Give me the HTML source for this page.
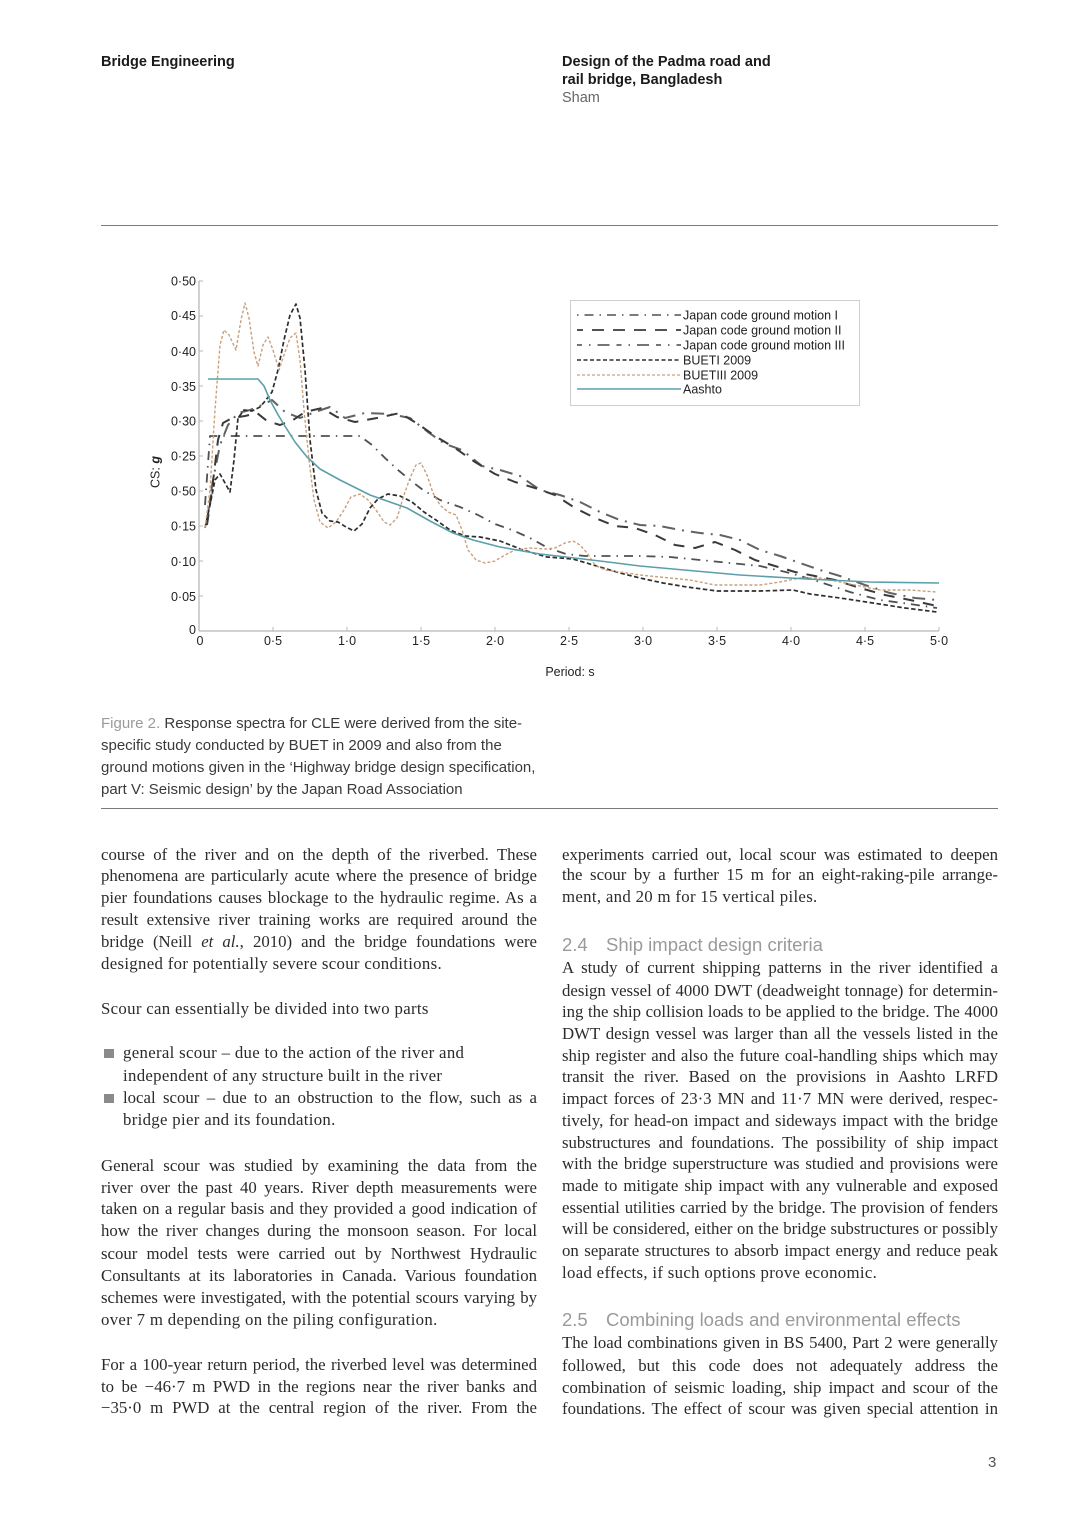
<!DOCTYPE html>
<html>
<head>
<meta charset="utf-8">
<style>
  html,body{margin:0;padding:0;background:#fff;}
  body{width:1080px;height:1528px;position:relative;overflow:hidden;}
  .s{font-family:"Liberation Sans",Arial,sans-serif;}
  .hd{position:absolute;font-family:"Liberation Sans",Arial,sans-serif;font-size:14.5px;line-height:18px;color:#1a1a1a;white-space:nowrap;}
  .rule{position:absolute;left:101px;width:897px;height:1px;background:#7a7a7a;}
  .cap{position:absolute;left:101px;font-family:"Liberation Sans",Arial,sans-serif;font-size:15px;line-height:22px;color:#3a3a3a;white-space:nowrap;}
  .l{position:absolute;height:22px;line-height:22px;font-family:"Liberation Serif","Times New Roman",serif;font-size:16.8px;color:#2b2b2b;white-space:nowrap;text-align:justify;text-align-last:justify;}
  .L{left:101px;width:436px;}
  .R{left:562px;width:436px;}
  .B{left:123px;width:414px;}
  .e{text-align-last:left;letter-spacing:0.32px;}
  .h{position:absolute;left:562px;height:24px;line-height:24px;font-family:"Liberation Sans",Arial,sans-serif;font-size:18.5px;color:#9a9a9a;white-space:nowrap;}
  .h span{display:inline-block;width:44px;}
  .bul{position:absolute;left:104px;width:10px;height:9px;background:#8a8a8a;}
</style>
</head>
<body>

<!-- Header -->
<div class="hd" style="left:101px;top:53px;font-weight:bold;">Bridge Engineering</div>
<div class="hd" style="left:562px;top:53px;font-weight:bold;">Design of the Padma road and</div>
<div class="hd" style="left:562px;top:71px;font-weight:bold;">rail bridge, Bangladesh</div>
<div class="hd" style="left:562px;top:89px;color:#666;">Sham</div>

<div class="rule" style="top:225px;"></div>

<!-- Chart -->
<svg style="position:absolute;left:0;top:0;" width="1080" height="700" viewBox="0 0 1080 700" xmlns="http://www.w3.org/2000/svg">
  <g font-family="Liberation Sans, Arial, sans-serif" font-size="12.5" fill="#222">
    <!-- axes -->
    <line x1="199" y1="281" x2="199" y2="631" stroke="#b8b8b8" stroke-width="1.3"/>
    <line x1="199" y1="631" x2="939" y2="631" stroke="#b8b8b8" stroke-width="1.3"/>
    <!-- ticks -->
    <g stroke="#b8b8b8" stroke-width="1">
      <line x1="199" y1="281" x2="203" y2="281"/>
      <line x1="199" y1="316" x2="203" y2="316"/>
      <line x1="199" y1="351" x2="203" y2="351"/>
      <line x1="199" y1="386" x2="203" y2="386"/>
      <line x1="199" y1="421" x2="203" y2="421"/>
      <line x1="199" y1="456" x2="203" y2="456"/>
      <line x1="199" y1="491" x2="203" y2="491"/>
      <line x1="199" y1="526" x2="203" y2="526"/>
      <line x1="199" y1="561" x2="203" y2="561"/>
      <line x1="199" y1="596" x2="203" y2="596"/>
      <line x1="273" y1="631" x2="273" y2="627"/>
      <line x1="347" y1="631" x2="347" y2="627"/>
      <line x1="421" y1="631" x2="421" y2="627"/>
      <line x1="495" y1="631" x2="495" y2="627"/>
      <line x1="569" y1="631" x2="569" y2="627"/>
      <line x1="643" y1="631" x2="643" y2="627"/>
      <line x1="717" y1="631" x2="717" y2="627"/>
      <line x1="791" y1="631" x2="791" y2="627"/>
      <line x1="865" y1="631" x2="865" y2="627"/>
      <line x1="939" y1="631" x2="939" y2="627"/>
    </g>
    <g text-anchor="end">
      <text x="196" y="285.5">0·50</text>
      <text x="196" y="320">0·45</text>
      <text x="196" y="356">0·40</text>
      <text x="196" y="391">0·35</text>
      <text x="196" y="425.5">0·30</text>
      <text x="196" y="460.5">0·25</text>
      <text x="196" y="495.5">0·50</text>
      <text x="196" y="530.5">0·15</text>
      <text x="196" y="566">0·10</text>
      <text x="196" y="601">0·05</text>
      <text x="196" y="634">0</text>
    </g>
    <g text-anchor="middle">
      <text x="200" y="645">0</text>
      <text x="273" y="645">0·5</text>
      <text x="347" y="645">1·0</text>
      <text x="421" y="645">1·5</text>
      <text x="495" y="645">2·0</text>
      <text x="569" y="645">2·5</text>
      <text x="643" y="645">3·0</text>
      <text x="717" y="645">3·5</text>
      <text x="791" y="645">4·0</text>
      <text x="865" y="645">4·5</text>
      <text x="939" y="645">5·0</text>
      <text x="570" y="676">Period: s</text>
      <text transform="translate(159.5,472) rotate(-90)">CS: <tspan font-weight="bold" font-style="italic">g</tspan></text>
    </g>

    <!-- series -->
    <g fill="none" stroke-linejoin="round" stroke-linecap="butt">
      <!-- Japan I -->
      <polyline stroke="#505050" stroke-width="1.8" stroke-dasharray="9,6,1.5,6"
        points="205,505 210,436 360,436 372,445 385,458 398,470 410,480 423,490 440,500 460,507 478,515 495,524 512,530 530,538 548,548 566,554 585,556 610,556 640,556 670,557 700,560 730,563 760,566 790,573 820,582 850,592 880,600 910,604 937,608"/>
      <!-- Japan III -->
      <polyline stroke="#626262" stroke-width="2" stroke-dasharray="13,7,2,7"
        points="207,520 213,480 220,445 228,425 238,413 250,410 262,405 272,400 285,412 300,418 315,412 330,407 345,418 365,413 390,414 410,418 428,432 445,444 462,450 482,466 500,470 520,476 540,490 560,495 580,502 600,512 620,520 640,525 660,526 680,530 700,533 720,535 740,540 760,550 780,556 800,563 820,570 840,576 865,585 890,593 915,598 937,600"/>
      <!-- Japan II -->
      <polyline stroke="#3a3a3a" stroke-width="2" stroke-dasharray="11,9"
        points="207,525 212,490 218,440 223,423 232,418 245,416 257,413 267,421 280,425 293,420 305,412 322,408 337,417 355,422 377,418 400,413 418,424 435,436 455,448 475,462 495,474 515,482 535,488 555,495 575,508 595,518 615,526 635,528 655,535 675,545 695,548 715,542 735,550 755,560 775,566 795,572 815,576 835,580 860,588 885,595 910,600 937,606"/>
      <!-- BUETI -->
      <polyline stroke="#2e2e2e" stroke-width="1.7" stroke-dasharray="4.5,2.5"
        points="205,528 210,505 215,480 220,474 225,483 230,492 234,460 238,418 244,410 252,411 260,407 266,400 272,392 278,370 284,340 290,315 296,304 300,318 305,370 310,440 316,490 322,513 330,521 338,522 346,527 354,531 362,524 370,508 378,499 388,494 400,496 412,502 424,512 436,520 450,530 465,536 480,537 500,541 523,550 547,557 573,559 600,567 620,573 640,578 663,583 687,587 717,591 760,591 793,590 810,594 840,598 873,603 905,608 937,612"/>
      <!-- BUETIII -->
      <polyline stroke="#c9a07c" stroke-width="1.4" stroke-dasharray="3,2"
        points="205,528 210,490 215,410 220,345 224,330 229,335 236,350 241,320 245,303 249,318 254,352 258,366 263,345 268,337 273,350 279,370 284,355 290,338 296,333 300,360 304,410 309,460 314,500 320,522 328,528 336,522 344,510 351,497 360,494 368,500 376,510 384,522 390,525 397,518 404,495 410,478 416,465 421,463 427,475 433,493 440,505 448,512 456,515 462,530 468,550 476,560 485,563 495,561 505,555 515,550 530,548 545,549 555,548 565,543 573,541 580,545 587,553 595,565 605,570 620,572 640,575 660,577 690,580 715,585 760,585 780,582 800,578 820,578 850,584 880,590 910,590 937,592"/>
      <!-- Aashto -->
      <polyline stroke="#5b9fa8" stroke-width="1.6"
        points="208,379 258,379 264,386 270,400 277,413 283,423 295,442 307,457 320,469 340,480 370,495 407,508 430,521 453,533 473,540 500,547 540,554 600,561 640,566 673,569 740,575 807,579 870,582 939,583"/>
    </g>

    <!-- legend -->
    <rect x="570.5" y="300.5" width="289" height="105" fill="#fff" stroke="#cfcfcf" stroke-width="1"/>
    <g fill="none">
      <line x1="577" y1="315" x2="681" y2="315" stroke="#505050" stroke-width="1.6" stroke-dasharray="1.5,6,9,6"/>
      <line x1="577" y1="330" x2="681" y2="330" stroke="#3a3a3a" stroke-width="1.8" stroke-dasharray="6,9,12,9,12,9,12,9,12,9,12,9"/>
      <line x1="577" y1="345" x2="681" y2="345" stroke="#626262" stroke-width="1.8" stroke-dasharray="5,7,1.5,7,12,7"/>
      <line x1="577" y1="360" x2="681" y2="360" stroke="#2e2e2e" stroke-width="1.5" stroke-dasharray="4,2.5"/>
      <line x1="577" y1="375" x2="681" y2="375" stroke="#c9a07c" stroke-width="1.3" stroke-dasharray="3,2"/>
      <line x1="577" y1="389" x2="681" y2="389" stroke="#5b9fa8" stroke-width="1.5"/>
    </g>
    <text x="683" y="319.5">Japan code ground motion I</text>
    <text x="683" y="334.5">Japan code ground motion II</text>
    <text x="683" y="349.5">Japan code ground motion III</text>
    <text x="683" y="364.5">BUETI 2009</text>
    <text x="683" y="379.5">BUETIII 2009</text>
    <text x="683" y="393.5">Aashto</text>
  </g>
</svg>

<!-- Caption -->
<div class="cap" style="top:713px;"><span style="color:#9a9a9a;">Figure 2.</span> Response spectra for CLE were derived from the site-</div>
<div class="cap" style="top:735px;">specific study conducted by BUET in 2009 and also from the</div>
<div class="cap" style="top:757px;">ground motions given in the ‘Highway bridge design specification,</div>
<div class="cap" style="top:779px;">part V: Seismic design’ by the Japan Road Association</div>

<div class="rule" style="top:808px;"></div>

<!-- Left column -->
<div class="l L" style="top:844px;">course of the river and on the depth of the riverbed. These</div>
<div class="l L" style="top:865px;">phenomena are particularly acute where the presence of bridge</div>
<div class="l L" style="top:887px;">pier foundations causes blockage to the hydraulic regime. As a</div>
<div class="l L" style="top:909px;">result extensive river training works are required around the</div>
<div class="l L" style="top:931px;">bridge (Neill <i>et al.</i>, 2010) and the bridge foundations were</div>
<div class="l L e" style="top:953px;">designed for potentially severe scour conditions.</div>

<div class="l L e" style="top:998px;">Scour can essentially be divided into two parts</div>

<div class="bul" style="top:1049px;"></div>
<div class="l B e" style="top:1042px;">general scour – due to the action of the river and</div>
<div class="l B e" style="top:1065px;">independent of any structure built in the river</div>
<div class="bul" style="top:1094px;"></div>
<div class="l B" style="top:1087px;">local scour – due to an obstruction to the flow, such as a</div>
<div class="l B e" style="top:1109px;">bridge pier and its foundation.</div>

<div class="l L" style="top:1155px;">General scour was studied by examining the data from the</div>
<div class="l L" style="top:1177px;">river over the past 40 years. River depth measurements were</div>
<div class="l L" style="top:1198px;">taken on a regular basis and they provided a good indication of</div>
<div class="l L" style="top:1220px;">how the river changes during the monsoon season. For local</div>
<div class="l L" style="top:1243px;">scour model tests were carried out by Northwest Hydraulic</div>
<div class="l L" style="top:1265px;">Consultants at its laboratories in Canada. Various foundation</div>
<div class="l L" style="top:1287px;">schemes were investigated, with the potential scours varying by</div>
<div class="l L e" style="top:1309px;">over 7 m depending on the piling configuration.</div>

<div class="l L" style="top:1354px;">For a 100-year return period, the riverbed level was determined</div>
<div class="l L" style="top:1376px;">to be −46·7 m PWD in the regions near the river banks and</div>
<div class="l L" style="top:1397px;">−35·0 m PWD at the central region of the river. From the</div>

<!-- Right column -->
<div class="l R" style="top:844px;">experiments carried out, local scour was estimated to deepen</div>
<div class="l R" style="top:864px;">the scour by a further 15 m for an eight-raking-pile arrange-</div>
<div class="l R e" style="top:886px;">ment, and 20 m for 15 vertical piles.</div>

<div class="h" style="top:933px;"><span>2.4</span>Ship impact design criteria</div>
<div class="l R" style="top:957px;">A study of current shipping patterns in the river identified a</div>
<div class="l R" style="top:980px;">design vessel of 4000 DWT (deadweight tonnage) for determin-</div>
<div class="l R" style="top:1001px;">ing the ship collision loads to be applied to the bridge. The 4000</div>
<div class="l R" style="top:1023px;">DWT design vessel was larger than all the vessels listed in the</div>
<div class="l R" style="top:1045px;">ship register and also the future coal-handling ships which may</div>
<div class="l R" style="top:1066px;">transit the river. Based on the provisions in Aashto LRFD</div>
<div class="l R" style="top:1088px;">impact forces of 23·3 MN and 11·7 MN were derived, respec-</div>
<div class="l R" style="top:1110px;">tively, for head-on impact and sideways impact with the bridge</div>
<div class="l R" style="top:1132px;">substructures and foundations. The possibility of ship impact</div>
<div class="l R" style="top:1153px;">with the bridge superstructure was studied and provisions were</div>
<div class="l R" style="top:1175px;">made to mitigate ship impact with any vulnerable and exposed</div>
<div class="l R" style="top:1197px;">essential utilities carried by the bridge. The provision of fenders</div>
<div class="l R" style="top:1218px;">will be considered, either on the bridge substructures or possibly</div>
<div class="l R" style="top:1240px;">on separate structures to absorb impact energy and reduce peak</div>
<div class="l R e" style="top:1262px;">load effects, if such options prove economic.</div>

<div class="h" style="top:1308px;"><span>2.5</span>Combining loads and environmental effects</div>
<div class="l R" style="top:1332px;">The load combinations given in BS 5400, Part 2 were generally</div>
<div class="l R" style="top:1355px;">followed, but this code does not adequately address the</div>
<div class="l R" style="top:1377px;">combination of seismic loading, ship impact and scour of the</div>
<div class="l R" style="top:1398px;">foundations. The effect of scour was given special attention in</div>

<div class="s" style="position:absolute;left:988px;top:1454px;font-size:15px;line-height:18px;color:#555;">3</div>

</body>
</html>
